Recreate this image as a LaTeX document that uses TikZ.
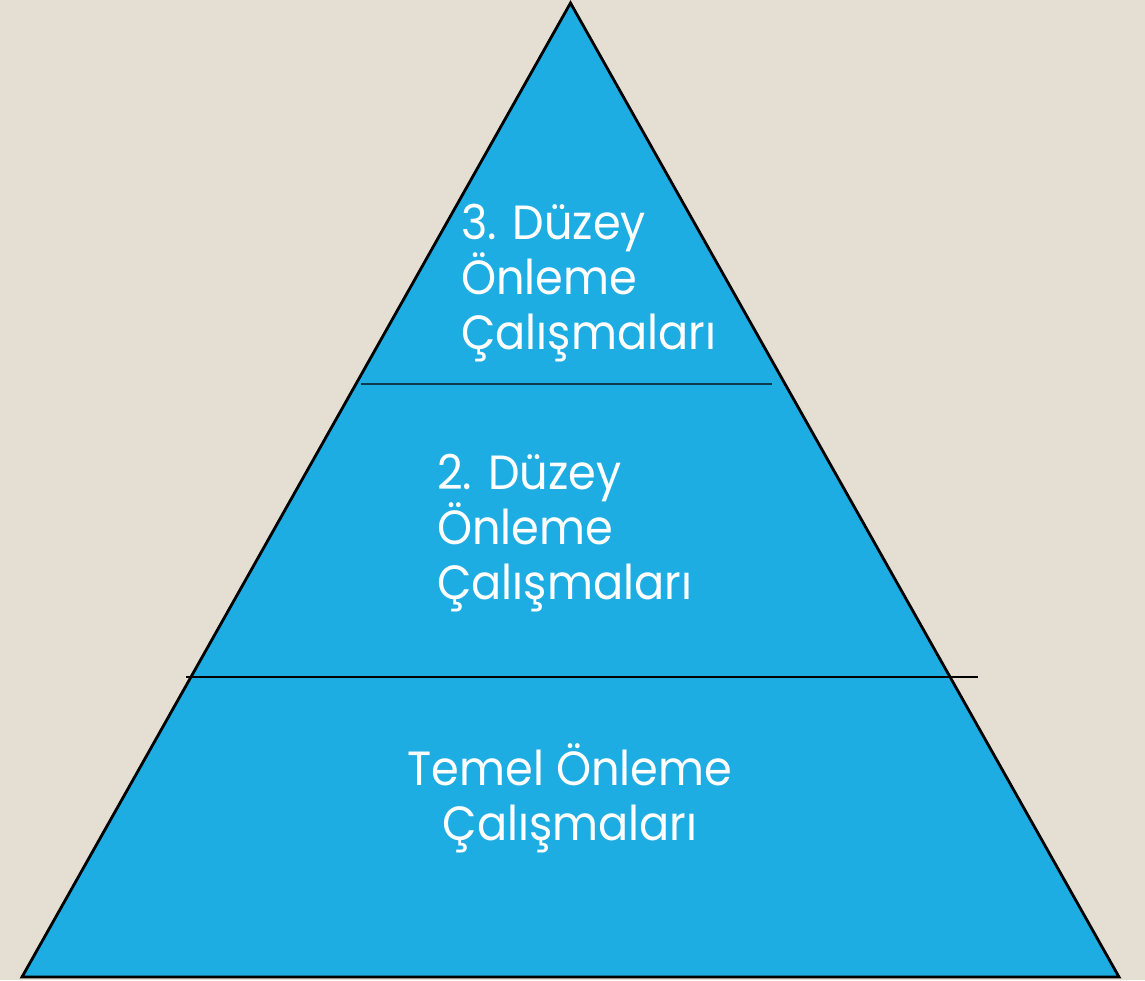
\documentclass[tikz,border=0pt]{standalone}
\usepackage{fontspec}
\setmainfont{Poppins}[FakeStretch=0.93]
\definecolor{bg}{HTML}{E4DED3}
\definecolor{pyr}{HTML}{1EADE3}
\definecolor{navy}{HTML}{0E3A50}
\begin{document}
\begin{tikzpicture}[x=1pt,y=-1pt,
  lbl/.style={text=white,inner sep=0pt,align=left,font=\fontsize{48}{55}\selectfont},
  divider/.style={line width=1.3pt}]
\fill[bg] (0,0) rectangle (1145,980);
\useasboundingbox (0,0) rectangle (1145,980);
\coordinate (apex) at (570.5,3);
\coordinate (bl) at (22,977);
\coordinate (br) at (1119,977);
\filldraw[fill=pyr,draw=black,line width=2.8pt,line join=miter] (apex) -- (bl) -- (br) -- cycle;
\coordinate (d1a) at (361,384);
\coordinate (d1b) at (772,384);
\coordinate (d2a) at (186,677);
\coordinate (d2b) at (978,677);
\draw[divider,navy] (d1a) -- (d1b);
\draw[divider,black] (d2a) -- (d2b);
\node[lbl,anchor=north west] (t3) at (461,204) {3. Düzey\\Önleme\\Çalışmaları};
\node[lbl,anchor=north west] (t2) at (437,454) {2. Düzey\\Önleme\\Çalışmaları};
\node[lbl,anchor=north,align=center] (t1) at (570,743) {Temel Önleme\\Çalışmaları};
\end{tikzpicture}
\end{document}
